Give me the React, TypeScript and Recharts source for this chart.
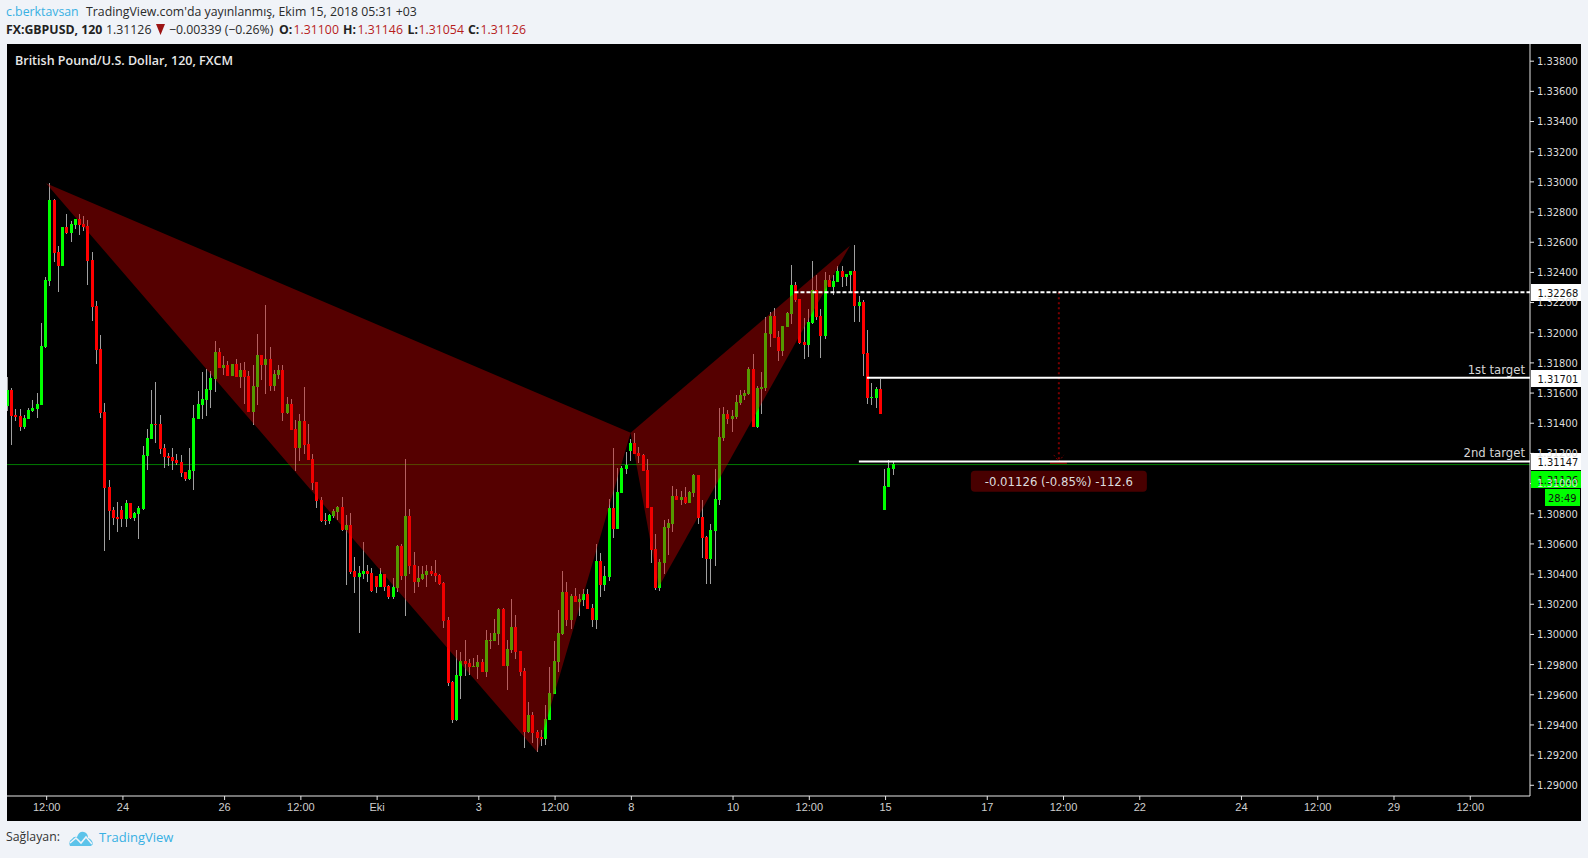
import React from 'react';
import { ComposedChart, Bar, Line, Area, Scatter, XAxis, YAxis } from 'recharts';

const opens = [
131514,131620,131455,131448,131375,131428,131481,131494,131521,131905,
132343,132880,132535,132443,132701,132661,132714,132754,132721,132708,
132482,132177,131892,131475,130977,130825,130778,130825,130765,130871,
130772,130798,130831,131183,131295,131395,131395,131236,131183,131176,
131156,131143,131077,131030,131083,131428,131521,131554,131620,131693,
131872,131766,131786,131713,131793,131707,131753,131713,131475,131640,
131852,131786,131826,131647,131720,131753,131468,131528,131362,131236,
131415,131262,131163,131010,130891,130758,130752,130785,130811,130845,
130692,130725,130420,130381,130400,130420,130407,130387,130314,130400,
130321,130248,130308,130586,130387,130785,130460,130347,130367,130394,
130420,130407,130394,130341,130095,129684,129432,129724,129824,129810,
129784,129784,129817,129751,129956,129956,130003,130168,129790,129897,
130049,129890,129757,129353,129466,129353,129320,129306,129432,129605,
129817,130003,130281,130095,130255,130215,130228,130268,130175,130096,
130487,130328,130381,130838,130699,130938,131097,131216,131269,131203,
131190,131090,130845,130567,130308,130474,130706,130732,130918,130891,
130911,130872,130938,131057,130779,130646,130500,130686,130891,131302,
131462,131428,131442,131535,131581,131594,131759,131375,131627,131633,
131992,132111,131972,131879,132038,132124,132316,132224,131938,131919,
132064,132283,132111,131978,132350,132303,132336,132409,132369,132383,
132409,132177,132204,131866,131567,131567,131627,130825,130978,131097];
const highs = [
131709,131634,131494,131494,131455,131501,131554,131601,132065,132370,
132993,132887,132575,132701,132787,132741,132754,132787,132774,132747,
132535,132210,131985,131534,131024,130845,130878,130851,130891,130871,
130811,130851,131249,131362,131620,131673,131455,131262,131203,131236,
131196,131189,131077,131236,131521,131614,131740,131760,131746,131945,
131899,131846,131813,131793,131826,131799,131806,131746,131786,131992,
131852,132184,131905,131753,131786,131786,131574,131561,131422,131461,
131640,131395,131196,131010,130911,130805,130798,130831,130851,130911,
130792,130805,130513,130453,130613,130460,130440,130387,130440,130400,
130327,130374,130593,130599,131163,130831,130546,130453,130453,130460,
130453,130493,130400,130347,130115,129691,129897,129883,129963,129837,
129843,129863,129837,130029,130009,130102,130175,130175,129963,130235,
130129,129890,129777,129552,129485,129366,129366,129532,129784,129956,
130162,130420,130347,130268,130308,130268,130301,130301,130202,130599,
130540,130454,130898,131236,131104,131117,131210,131296,131336,131243,
131196,131163,130845,130666,130500,130759,130765,130984,130964,130951,
130978,130951,131064,131057,130891,130653,130732,131097,131501,131508,
131488,131488,131588,131621,131621,131773,131859,131647,131740,132104,
132137,132164,132011,132045,132137,132449,132336,132224,132098,132157,
132475,132383,132157,132403,132383,132383,132442,132442,132389,132409,
132582,132243,132217,132018,131667,131640,131693,131097,131157,131150];
const lows = [
131483,131256,131415,131349,131362,131428,131475,131435,131521,131899,
132310,132469,132270,132443,132655,132602,132688,132648,132675,132317,
132078,131793,131435,130553,130626,130725,130679,130712,130712,130765,
130752,130632,130825,131090,131295,131269,131196,131103,131117,131090,
131123,131044,131017,131024,130957,131428,131428,131448,131501,131607,
131766,131720,131713,131713,131707,131634,131528,131475,131388,131521,
131687,131594,131614,131614,131693,131415,131461,131355,131083,131150,
131196,131156,130957,130838,130745,130725,130732,130772,130758,130685,
130327,130400,130274,130009,130367,130347,130281,130274,130314,130288,
130235,130235,130281,130361,130122,130400,130274,130314,130361,130314,
130387,130347,130327,130042,129658,129412,129426,129572,129724,129731,
129784,129704,129751,129717,129903,129956,129930,129790,129631,129877,
129837,129724,129247,129346,129280,129220,129260,129267,129432,129605,
129751,129996,130056,130036,130215,130122,130188,130168,130049,130036,
130248,130288,130354,130639,130699,130938,131064,131150,131196,131137,
131084,130838,130474,130295,130288,130401,130527,130679,130891,130858,
130865,130872,130911,130732,130507,130334,130334,130454,130858,131283,
131395,131342,131428,131521,131554,131587,131375,131368,131461,131614,
131905,131965,131812,131846,132038,132058,132204,131925,131826,131839,
132058,132084,131832,131958,132303,132250,132336,132303,132310,132270,
132071,132071,131713,131527,131521,131501,131461,130825,130978,131057];
const closes = [
131620,131448,131441,131375,131435,131488,131501,131528,131912,132350,
132880,132529,132443,132701,132659,132721,132754,132714,132701,132476,
132171,131886,131468,130971,130818,130772,130765,130765,130871,130772,
130805,130838,131189,131302,131395,131388,131229,131176,131170,131150,
131136,131070,131030,131090,131435,131528,131561,131627,131700,131872,
131766,131786,131713,131793,131707,131753,131707,131475,131647,131852,
131786,131826,131647,131727,131753,131468,131528,131355,131236,131415,
131256,131156,131004,130884,130752,130752,130792,130818,130845,130692,
130725,130414,130381,130407,130420,130400,130288,130314,130400,130314,
130248,130314,130586,130387,130785,130453,130347,130374,130400,130420,
130400,130387,130334,130089,129678,129432,129731,129824,129804,129784,
129790,129817,129751,129963,129963,130009,130168,129790,129903,130049,
129883,129751,129353,129466,129346,129313,129306,129439,129611,129824,
130009,130281,130095,130255,130215,130235,130268,130168,130096,130487,
130328,130388,130838,130699,130944,131104,131123,131269,131196,131183,
131084,130838,130560,130308,130480,130712,130739,130918,130891,130911,
130872,130944,131057,130772,130639,130500,130692,130898,131309,131462,
131428,131448,131541,131588,131601,131759,131375,131633,131640,131998,
132111,131965,131879,132045,132131,132316,132217,131932,131919,132071,
132283,132104,131978,132350,132303,132343,132409,132369,132389,132409,
132177,132204,131859,131567,131574,131627,131461,130984,131104,131130];

const POINT = 1e-5;
const candles = opens.map((o, i) => ({
  i, open: o * POINT, high: highs[i] * POINT, low: lows[i] * POINT, close: closes[i] * POINT,
  range: [lows[i] * POINT, highs[i] * POINT],
}));

const tickCandles = [9, 27, 51, 69, 87, 111, 129, 147, 171, 189, 207, 231, 249, 267, 291, 309, 327, 345];
const tickLabels = ['12:00', '24', '26', '12:00', 'Eki', '3', '12:00', '8', '10', '12:00', '15', '17', '12:00', '22', '24', '12:00', '29', '12:00'];
const priceTicks = [1.29, 1.292, 1.294, 1.296, 1.298, 1.3, 1.302, 1.304, 1.306, 1.308, 1.31, 1.312, 1.314, 1.316, 1.318, 1.32, 1.322, 1.324, 1.326, 1.328, 1.33, 1.332, 1.334, 1.336, 1.338];

const X_MIN = -0.36;
const X_MAX = 359.1;

const patternLeft = [
  { i: 8.84, band: [1.32991, 1.32991] },
  { i: 124.8, band: [1.2922, 1.31601] },
  { i: 146.84, band: [1.31337, 1.31337] },
];
const patternRight = [
  { i: 146.84, band: [1.31337, 1.31337] },
  { i: 153.45, band: [1.30314, 1.31496] },
  { i: 198.6, band: [1.32577, 1.32577] },
];

const lastPriceLine = [{ i: X_MIN, v: 1.31126 }, { i: X_MAX, v: 1.31126 }];
const entryLine = [{ i: 185.5, v: 1.32268 }, { i: X_MAX, v: 1.32268 }];
const target1Line = [{ i: 202.6, v: 1.31701 }, { i: X_MAX, v: 1.31701 }];
const target2Line = [{ i: 200.7, v: 1.31147 }, { i: X_MAX, v: 1.31147 }];
const measureLine = [{ i: 247.9, v: 1.32268 }, { i: 247.9, v: 1.31147 }];
const measureArrow = [{ i: 246.7, v: 1.3119 }, { i: 247.9, v: 1.31147 }, { i: 249.1, v: 1.3119 }];
const measureBase = [{ i: 245.8, v: 1.31136 }, { i: 249.8, v: 1.31136 }];

const priceTags = [
  { i: X_MAX, p: 1.32268, text: '1.32268', bg: '#ffffff' },
  { i: X_MAX, p: 1.31701, text: '1.31701', bg: '#ffffff', caption: '1st target' },
  { i: X_MAX, p: 1.31147, text: '1.31147', bg: '#ffffff', caption: '2nd target' },
  { i: X_MAX, p: 1.31126, text: '1.31126', bg: '#00ff00', sub: '28:49' },
];
const measureTag = [{ i: 247.9, p: 1.31015, text: '-0.01126 (-0.85%) -112.6' }];

const AXIS_FONT = '"DejaVu Sans Condensed", "DejaVu Sans", sans-serif';
const UI_FONT = '"Open Sans", sans-serif';

const Candle = (props: any) => {
  const { x, y, width, height } = props;
  const d = props.payload ?? props;
  const c = x + width / 2;
  const px = Math.floor(c - 1);
  const k = height / (d.high - d.low);
  const top = Math.round(y + (d.high - Math.max(d.open, d.close)) * k);
  const bot = Math.round(y + (d.high - Math.min(d.open, d.close)) * k);
  const wt = Math.round(y);
  const wb = Math.round(y + height);
  return (
    <g shapeRendering="crispEdges">
      <rect x={px} y={wt} width={1} height={Math.max(1, wb - wt)} fill="#a0a0a0" />
      <rect x={px - 1} y={top} width={3} height={Math.max(1, bot - top)} fill={d.close >= d.open ? '#00ff00' : '#ff0000'} />
    </g>
  );
};

const PriceTag = (props: any) => {
  const { cx, cy } = props;
  const d = props.payload;
  const c = Math.round(cy) + (d.sub ? 14 : 0);
  return (
    <g>
      {d.caption ? (
        <text x={cx - 5} y={cy - 4} textAnchor="end" fontFamily={AXIS_FONT} fontSize={13} fill="#d6d6d6">{d.caption}</text>
      ) : null}
      <rect x={cx + 1} y={c - 8} width={50} height={17} fill={d.bg} />
      <text x={cx + 7.5} y={c + 4.5} fontFamily={AXIS_FONT} fontSize={11} fill="#111">{d.text}</text>
      {d.sub ? (
        <g>
          <rect x={cx + 15} y={c + 10} width={35} height={17} fill={d.bg} />
          <text x={cx + 18} y={c + 22.5} fontFamily={AXIS_FONT} fontSize={11} fill="#111">{d.sub}</text>
        </g>
      ) : null}
    </g>
  );
};

const MeasureTag = (props: any) => {
  const { cx, cy } = props;
  return (
    <g>
      <rect x={cx - 88} y={cy - 10.5} width={176} height={21} rx={4} fill="#480000" />
      <text x={cx} y={cy + 4.5} textAnchor="middle" fontFamily={AXIS_FONT} fontSize={13} fill="#dcdcdc">{props.payload.text}</text>
    </g>
  );
};

const span = (left: number, top: number, text: string, style: React.CSSProperties = {}) => (
  <span style={{ position: 'absolute', left, top, whiteSpace: 'nowrap', lineHeight: '16px', ...style }}>{text}</span>
);

export default function App() {
  const bold = { fontWeight: 700, color: '#222' };
  const red = { color: '#b71c1c' };
  return (
    <div style={{ position: 'absolute', left: 0, top: 0, width: 1588, height: 858, background: '#f0f3f8', fontFamily: UI_FONT, fontSize: 12.3, color: '#2a2a2a', overflow: 'hidden' }}>
      {span(6, 4, 'c.berktavsan', { color: '#38b0e3' })}
      {span(86, 4, "TradingView.com'da yayınlanmış, Ekim 15, 2018 05:31 +03")}
      {span(6, 22, 'FX:GBPUSD, 120', bold)}
      {span(106, 22, '1.31126')}
      <svg style={{ position: 'absolute', left: 156, top: 24 }} width={10} height={12}><polygon points="0,0 9,0 4.5,11" fill="#9c1414" /></svg>
      {span(169, 22, '−0.00339 (−0.26%)')}
      {span(279, 22, 'O:', bold)}
      {span(293.5, 22, '1.31100', red)}
      {span(343, 22, 'H:', bold)}
      {span(357.5, 22, '1.31146', red)}
      {span(407.5, 22, 'L:', bold)}
      {span(418.5, 22, '1.31054', red)}
      {span(468, 22, 'C:', bold)}
      {span(480.5, 22, '1.31126', red)}

      <div style={{ position: 'absolute', left: 7, top: 44, width: 1574, height: 777, background: '#000' }}>
        <ComposedChart width={1574} height={777} data={candles} margin={{ top: 0, right: 0, bottom: 0, left: 0 }}>
          <XAxis
            dataKey="i"
            type="number"
            domain={[X_MIN, X_MAX]}
            ticks={tickCandles}
            interval={0}
            height={25}
            tickSize={4}
            tickMargin={3}
            stroke="#e6e6e6"
            tick={{ fill: '#cfcfcf', fontSize: 11, fontFamily: '"Liberation Sans", Arial, sans-serif' }}
            tickFormatter={(v: number) => tickLabels[tickCandles.indexOf(v)] ?? ''}
          />
          <YAxis
            orientation="right"
            type="number"
            domain={[1.28929, 1.33914]}
            ticks={priceTicks}
            interval={0}
            width={51}
            tickSize={4}
            tickMargin={3}
            stroke="#e6e6e6"
            tick={{ fill: '#dcdcdc', fontSize: 11, fontFamily: AXIS_FONT }}
            tickFormatter={(v: number) => v.toFixed(5)}
          />
          <Line data={lastPriceLine} dataKey="v" stroke="#007a00" strokeWidth={1} dot={false} activeDot={false} isAnimationActive={false} zIndex={100} />
          <Bar dataKey="range" barSize={3} shape={Candle} isAnimationActive={false} zIndex={200} />
          <Area data={patternLeft} dataKey="band" type="linear" stroke="none" fill="#d40000" fillOpacity={0.4} dot={false} activeDot={false} isAnimationActive={false} zIndex={300} />
          <Area data={patternRight} dataKey="band" type="linear" stroke="none" fill="#d40000" fillOpacity={0.4} dot={false} activeDot={false} isAnimationActive={false} zIndex={300} />
          <Line data={measureBase} dataKey="v" stroke="#d00000" strokeWidth={1} dot={false} activeDot={false} isAnimationActive={false} zIndex={400} />
          <Line data={measureLine} dataKey="v" stroke="#7a0000" strokeWidth={2} strokeDasharray="2 3" dot={false} activeDot={false} isAnimationActive={false} zIndex={400} />
          <Line data={measureArrow} dataKey="v" stroke="#7a0000" strokeWidth={1} strokeDasharray="2 2" dot={false} activeDot={false} isAnimationActive={false} zIndex={400} />
          <Line data={entryLine} dataKey="v" stroke="#ffffff" strokeWidth={2} strokeDasharray="4 2" dot={false} activeDot={false} isAnimationActive={false} zIndex={500} />
          <Line data={target1Line} dataKey="v" stroke="#ffffff" strokeWidth={2} dot={false} activeDot={false} isAnimationActive={false} zIndex={500} />
          <Line data={target2Line} dataKey="v" stroke="#ffffff" strokeWidth={2} dot={false} activeDot={false} isAnimationActive={false} zIndex={500} />
          <Scatter data={measureTag} dataKey="p" shape={MeasureTag} isAnimationActive={false} zIndex={600} />
          <Scatter data={priceTags} dataKey="p" shape={PriceTag} isAnimationActive={false} zIndex={1000} />
        </ComposedChart>
      </div>

      <div style={{ position: 'absolute', left: 7, top: 44, fontFamily: UI_FONT, fontWeight: 600, fontSize: 12.5, color: '#e8e8e8', lineHeight: '16px', transform: 'translate(8px, 9px)', whiteSpace: 'nowrap' }}>
        British Pound/U.S. Dollar, 120, FXCM
      </div>

      {span(6, 829, 'Sağlayan:', { color: '#333' })}
      <svg style={{ position: 'absolute', left: 69, top: 831 }} width={24} height={15} viewBox="0 0 24 15">
        <path d="M1 15 Q-1 10 3 8 Q5 5 8 6 Q10 0 15 1 Q19 2 19 7 Q23 8 24 13 L22 15 Z" fill="#5cc3ea" />
        <polyline points="1,12 7,7 12,12 17,6 23,13" fill="none" stroke="#f0f3f8" strokeWidth={1.6} />
      </svg>
      {span(99, 829, 'TradingView', { color: '#38b0e3', fontSize: 13 })}
    </div>
  );
}
